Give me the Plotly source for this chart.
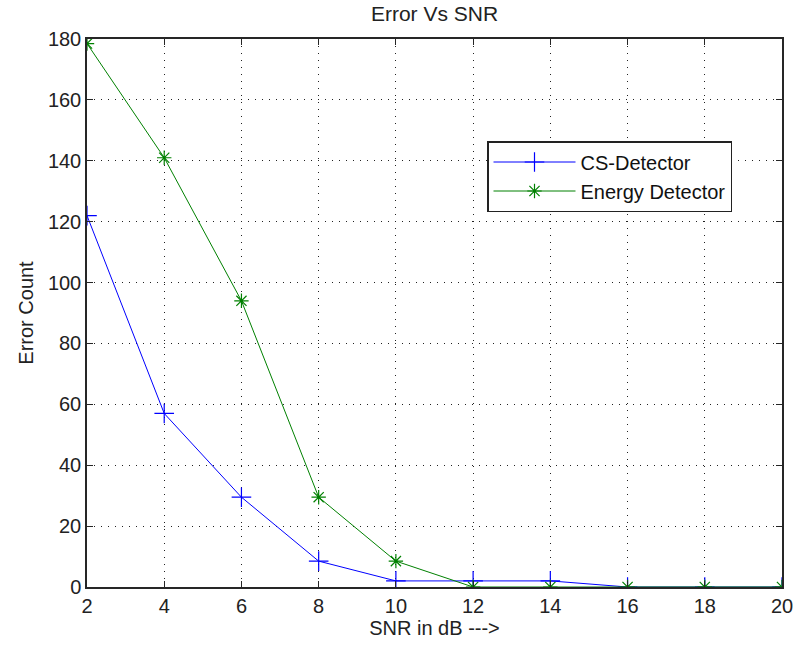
import plotly.graph_objects as go

snr = [2, 4, 6, 8, 10, 12, 14, 16, 18, 20]
cs_detector = [122, 57, 29.5, 8.5, 2, 2, 2, 0, 0, 0]
energy_detector = [178.5, 141, 94, 29.5, 8.5, 0, 0, 0, 0, 0]

FONT = "Liberation Sans, Arial, sans-serif"

fig = go.Figure()
fig.add_trace(go.Scatter(
    x=snr, y=cs_detector, name="CS-Detector", mode="lines+markers",
    line=dict(color="#0000FF", width=1),
    marker=dict(symbol="cross-thin", size=14, line=dict(color="#0000FF", width=1.2)),
))
fig.add_trace(go.Scatter(
    x=snr, y=energy_detector, name="Energy Detector", mode="lines+markers",
    line=dict(color="#008000", width=1),
    marker=dict(symbol="asterisk-open", size=12, line=dict(color="#008000", width=1.2)),
))

axis_common = dict(
    showline=True, linecolor="#262626", linewidth=1.5, mirror="ticks",
    ticks="inside", ticklen=6, tickcolor="#262626",
    showgrid=True, gridcolor="#222222", griddash="1px,6px", gridwidth=1,
    zeroline=False, automargin=False,
    tickfont=dict(family=FONT, size=20, color="#222222"),
)

fig.update_layout(
    width=794, height=645,
    margin=dict(l=87, r=12, t=39, b=58),
    paper_bgcolor="white", plot_bgcolor="white",
    font=dict(family=FONT, color="#222222"),
    title=dict(text="Error Vs SNR", x=(87 + 782) / 2 / 794, xanchor="center",
               y=1 - 14 / 645, yanchor="middle", font=dict(size=21, family=FONT)),
    xaxis=dict(range=[2, 20], dtick=2, tick0=2,
               title=dict(text="SNR in dB --->", font=dict(size=20, family=FONT), standoff=4),
               **axis_common),
    yaxis=dict(range=[0, 180], dtick=20,
               title=dict(text="Error Count", font=dict(size=20, family=FONT), standoff=9),
               **axis_common),
    legend=dict(x=(487 - 87) / 695, y=(587 - 141) / 548, xanchor="left", yanchor="top",
                bgcolor="white", bordercolor="#222222", borderwidth=1.5,
                font=dict(family=FONT, size=20, color="#111111"),
                itemwidth=82, tracegroupgap=0),
    showlegend=True,
)

fig.write_html("out.html")
